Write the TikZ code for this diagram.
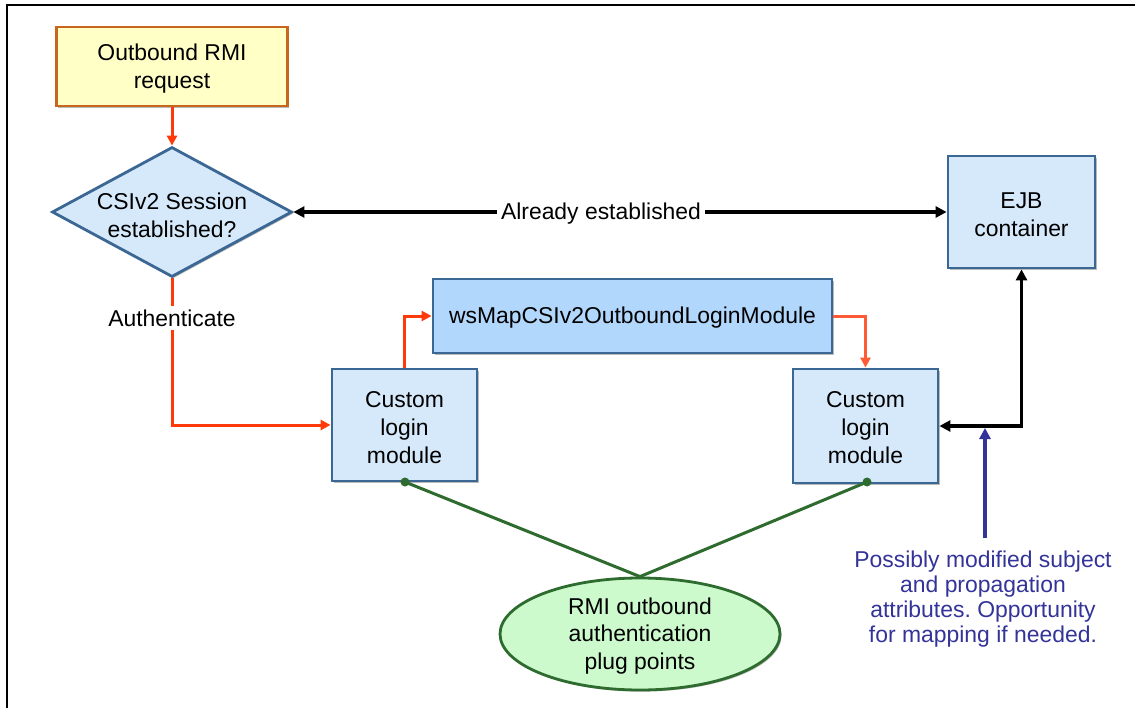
\documentclass[tikz,border=0pt]{standalone}
\usepackage{fontspec}
\setmainfont{Liberation Sans}
\frenchspacing
\usetikzlibrary{shapes.geometric,arrows.meta,shadows}
\definecolor{boxblue}{HTML}{D6E9FB}
\definecolor{boxblueD}{HTML}{B2D7FC}
\definecolor{bordblue}{HTML}{3B6794}
\definecolor{reqfill}{HTML}{FFFFC6}
\definecolor{reqbord}{HTML}{C8661E}
\definecolor{arrred}{HTML}{FF3A0A}
\definecolor{arrred2}{HTML}{FF5A36}
\definecolor{elfill}{HTML}{CCFACC}
\definecolor{elbord}{HTML}{2E6B2E}
\definecolor{notec}{HTML}{333399}
\tikzset{
  txt/.style={font=\fontsize{23}{28}\selectfont, align=center},
  shad/.style={drop shadow={shadow xshift=1.6bp, shadow yshift=-1.6bp, fill=black!60, opacity=0.45}},
  bluebox/.style={txt, shad, rectangle, draw=bordblue, fill=boxblue, line width=2.8bp, inner sep=0pt},
  reqbox/.style={txt, shad, rectangle, draw=reqbord, fill=reqfill, line width=2.8bp, inner sep=0pt},
  redarr/.style={draw=arrred, line width=3bp, -{Triangle[length=10bp,width=10bp]}},
  blkarr/.style={draw=black, line width=3.2bp, {Triangle[length=11bp,width=11bp]}-{Triangle[length=11bp,width=11bp]}},
  grnline/.style={draw=elbord, line width=3bp},
  gdot/.style={circle, fill=elbord, inner sep=0pt, minimum size=9bp},
  lbl/.style={txt, fill=white, inner sep=4bp},
}
\begin{document}
\begin{tikzpicture}[x=1bp,y=-1bp]
\useasboundingbox (0,0) rectangle (1135,708);
\fill[white] (0,0) rectangle (1135,708);
% frame
\draw[line width=1.2bp] (7,708) -- (7,5) -- (1135,5);

% nodes
\node[reqbox, minimum width=231bp, minimum height=79bp] (req) at (172,66.5) {};
\node[txt] (reqt) at (172,69) {Outbound RMI\\request};
\node[diamond, shad, draw=bordblue, fill=boxblue, line width=2.8bp, inner sep=0pt,
      minimum width=240bp, minimum height=130bp] (dia) at (172,212) {};
\node[txt] (diat) at (172,215.5) {CSIv2 Session\\established?};
\node[bluebox, minimum width=147bp, minimum height=112bp] (ejb) at (1021.5,212) {};
\node[txt] (ejbt) at (1021.5,214.5) {EJB\\container};
\node[bluebox, fill=boxblueD, minimum width=399bp, minimum height=74bp] (ws) at (632.5,316) {};
\node[txt] (wst) at (632.5,318) {wsMapCSIv2OutboundLoginModule};
\node[bluebox, minimum width=145bp, minimum height=112bp] (clmL) at (404.5,425) {};
\node[txt] (clmLt) at (404.5,428) {Custom\\login\\module};
\node[bluebox, minimum width=145bp, minimum height=114bp] (clmR) at (865.5,426) {};
\node[txt] (clmRt) at (865.5,428) {Custom\\login\\module};
\node[ellipse, shad, draw=elbord, fill=elfill, line width=2.8bp, inner sep=0pt,
      minimum width=280bp, minimum height=112bp] (ell) at (640,634) {};
\node[txt] (ellt) at (640,636) {RMI outbound\\authentication\\plug points};
\node[txt, text=notec, font=\fontsize{23}{25}\selectfont] (note) at (983,599)
  {Possibly modified subject\\and propagation\\attributes. Opportunity\\for mapping if needed.};

% connectors
\draw[redarr] (req.south) -- (dia.north);
\draw[blkarr] (dia.east) -- (ejb.west);
\node[lbl] (already) at (601,214) {Already established};
\draw[redarr] (dia.south) |- (clmL.west);
\node[lbl] (auth) at (172,318) {Authenticate};
\draw[redarr] (clmL.north) |- (ws.west);
\draw[redarr, draw=arrred2] (ws.east) -| (clmR.north);
\draw[blkarr] (ejb.south) |- (clmR.east);
\coordinate (ptrS) at (985,538);
\coordinate (ptrE) at (985,428);
\draw[draw=notec, line width=3.2bp, -{Triangle[length=11bp,width=11bp]}] (ptrS) -- (ptrE);

\node[gdot] (dL) at (405,482) {};
\node[gdot] (dR) at (867,482) {};
\draw[grnline] (dL.center) -- (ell.north);
\draw[grnline] (dR.center) -- (ell.north);
\end{tikzpicture}
\end{document}
